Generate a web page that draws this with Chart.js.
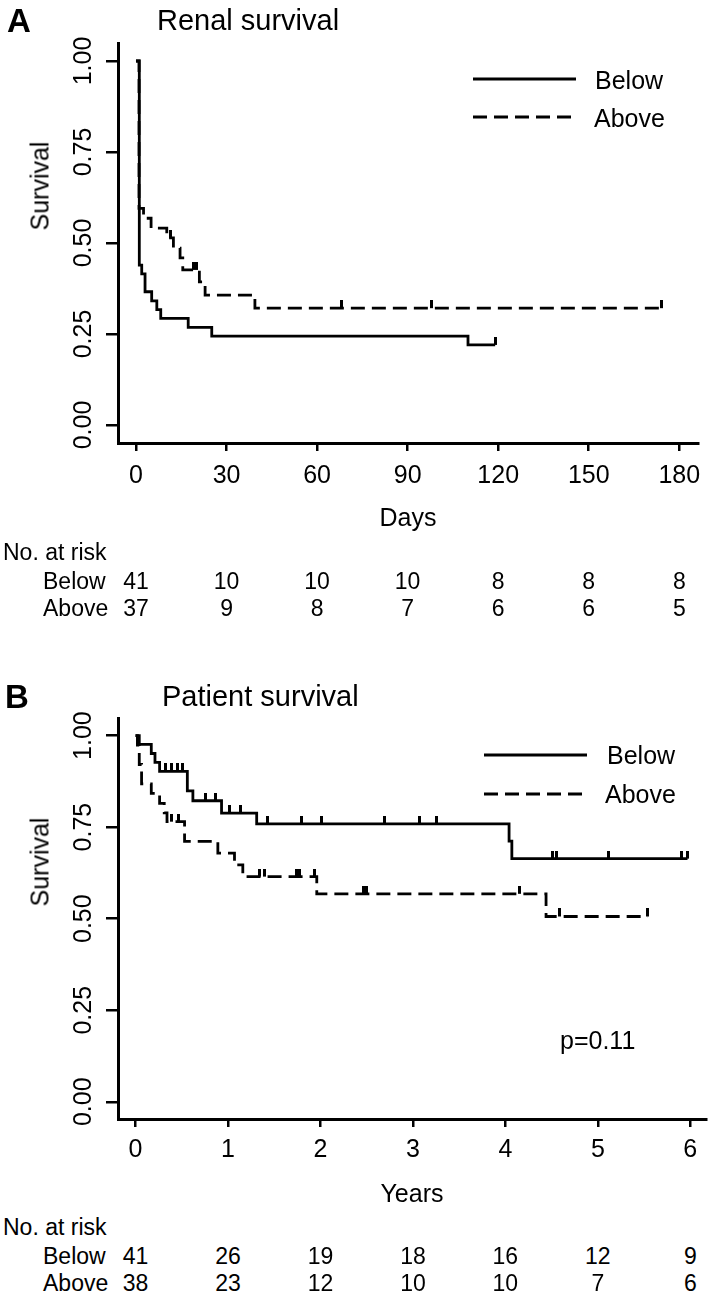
<!DOCTYPE html>
<html>
<head>
<meta charset="utf-8">
<script src="https://cdn.jsdelivr.net/npm/chart.js@4/dist/chart.umd.min.js"></script>
<style>
body { margin: 0; width: 711px; height: 1298px; background: #fff; position: relative; overflow: hidden; font-family: "Liberation Sans", Arial, sans-serif; color: #000; }
canvas { position: absolute; left: 0; }
.t { position: absolute; white-space: nowrap; line-height: 1; }
</style>
</head>
<body>
<canvas id="chart-a" width="711" height="540" style="top:0px"></canvas>
<canvas id="chart-b" width="711" height="540" style="top:660px"></canvas>
<script>
// Panel A - renal survival, days
var belowDaysA = [0, 1.1, 1.9, 3.0, 5.2, 6.9, 8.2, 17.3, 25.1, 110, 119];
var belowSurvA = [1, 0.439, 0.415, 0.366, 0.341, 0.317, 0.293, 0.268, 0.244, 0.22, 0.22];
var aboveDaysA = [0, 1.0, 2.5, 5.0, 10.2, 12.4, 14.6, 15.5, 21, 22.9, 39.4, 174];
var aboveSurvA = [1, 0.595, 0.568, 0.541, 0.514, 0.486, 0.459, 0.426, 0.393, 0.357, 0.321, 0.321];
var belowCensorA = [119];
var aboveCensorA = [11.5, 19.2, 20, 68, 98, 174];
var xTicksA = [0, 30, 60, 90, 120, 150, 180];
var riskBelowA = [41, 10, 10, 10, 8, 8, 8];
var riskAboveA = [37, 9, 8, 7, 6, 6, 5];

// Panel B - patient survival, years
var belowYrsB = [0, 0.04, 0.17, 0.21, 0.26, 0.56, 0.62, 0.93, 1.31, 4.04, 4.07, 5.97];
var belowSurvB = [1, 0.976, 0.951, 0.927, 0.902, 0.849, 0.822, 0.788, 0.759, 0.712, 0.664, 0.664];
var aboveYrsB = [0, 0.02, 0.04, 0.065, 0.17, 0.26, 0.31, 0.34, 0.53, 0.89, 1.07, 1.16, 1.96, 4.44, 5.54];
var aboveSurvB = [1, 0.974, 0.921, 0.868, 0.842, 0.815, 0.789, 0.765, 0.711, 0.679, 0.647, 0.615, 0.568, 0.506, 0.506];
var belowCensorB = [0.32, 0.39, 0.45, 0.51, 0.76, 0.86, 1.02, 1.14, 1.43, 1.79, 2.01, 2.69, 3.07, 3.25, 4.51, 4.55, 5.11, 5.90, 5.97];
var aboveCensorB = [0.39, 0.46, 1.34, 1.39, 1.74, 1.77, 1.94, 2.46, 2.50, 4.15, 4.58, 5.54];
var xTicksB = [0, 1, 2, 3, 4, 5, 6];
var riskBelowB = [41, 26, 19, 18, 16, 12, 9];
var riskAboveB = [38, 23, 12, 10, 10, 7, 6];

var yTicks = [0, 0.25, 0.5, 0.75, 1];
var groupNames = ['Below', 'Above'];

var DASH = [14, 7];
var LINE_W = 2.8;

function zip(xs, ys) {
	var out = [];
	for (var i = 0; i < xs.length; i++) {out.push({x: xs[i], y: ys[i]});}
	return out;
}

// survival level of a curve at time t (used to sit censor marks on the curve)
function survAt(times, surv, t) {
	var s = surv[0];
	for (var i = 0; i < times.length; i++) {if (times[i] <= t) {s = surv[i];}}
	return s;
}

function censorPoints(cens, times, surv) {
	return cens.map(function(t) {return {x: t, y: survAt(times, surv, t)};});
}

// small upward tick used as censor mark
var censorMark = (function() {
	var c = document.createElement('canvas');
	c.width = 3; c.height = 16;
	var g = c.getContext('2d');
	g.fillStyle = '#000';
	g.fillRect(0, 0, 3, 8);
	return c;
})();

var yLabelPlugin = {
	id: 'yLabels',
	afterDraw: function(chart) {
		var ctx = chart.ctx, scale = chart.scales.y;
		ctx.save();
		ctx.fillStyle = '#000';
		ctx.font = '25px "Liberation Sans", Arial, sans-serif';
		ctx.textAlign = 'center';
		ctx.textBaseline = 'alphabetic';
		yTicks.forEach(function(v) {
			ctx.save();
			ctx.translate(91, scale.getPixelForValue(v));
			ctx.rotate(-Math.PI / 2);
			ctx.fillText(v.toFixed(2), 0, 0);
			ctx.restore();
		});
		ctx.restore();
	}
};

var legendLinePlugin = {
	id: 'legendLines',
	afterDraw: function(chart) {
		var o = chart.options.plugins.legendLines, ctx = chart.ctx;
		ctx.save();
		ctx.strokeStyle = '#000';
		ctx.lineWidth = LINE_W;
		ctx.beginPath(); ctx.moveTo(o.x1, o.y1); ctx.lineTo(o.x2, o.y1); ctx.stroke();
		ctx.setLineDash(DASH);
		ctx.beginPath(); ctx.moveTo(o.x1, o.y2); ctx.lineTo(o.x2, o.y2); ctx.stroke();
		ctx.restore();
	}
};

function makeChart(id, o) {
	var ctx = document.getElementById(id).getContext('2d');
	return new Chart(ctx, {
		type: 'line',
		data: {
			datasets: [
				{label: groupNames[0], data: zip(o.belowT, o.belowS), borderColor: '#000', borderWidth: LINE_W, stepped: 'before', pointRadius: 0, fill: false},
				{label: groupNames[1], data: zip(o.aboveT, o.aboveS), borderColor: '#000', borderWidth: LINE_W, borderDash: DASH, stepped: 'before', pointRadius: 0, fill: false},
				{data: censorPoints(o.belowC, o.belowT, o.belowS), showLine: false, pointStyle: censorMark, pointRadius: 4},
				{data: censorPoints(o.aboveC, o.aboveT, o.aboveS), showLine: false, pointStyle: censorMark, pointRadius: 4}
			]
		},
		options: {
			responsive: false,
			animation: false,
			events: [],
			layout: {padding: {top: o.top, right: o.right, left: 0, bottom: 0}},
			plugins: {legend: {display: false}, tooltip: {enabled: false}, legendLines: o.legend},
			scales: {
				x: {
					type: 'linear', min: o.xMin, max: o.xMax,
					afterBuildTicks: function(s) {s.ticks = o.xTicks.map(function(v) {return {value: v};});},
					afterFit: function(s) {s.height = o.xAxisH;},
					grid: {drawOnChartArea: false, drawTicks: true, tickLength: 8, color: '#000', lineWidth: 2.5},
					border: {display: true, color: '#000', width: 3},
					ticks: {color: '#000', font: {size: 25}, padding: o.tickPad, maxRotation: 0, autoSkip: false}
				},
				y: {
					type: 'linear', min: o.yMin, max: o.yMax,
					afterBuildTicks: function(s) {s.ticks = yTicks.map(function(v) {return {value: v};});},
					afterFit: function(s) {s.width = 118;},
					grid: {drawOnChartArea: false, drawTicks: true, tickLength: 12, color: '#000', lineWidth: 2.5},
					border: {display: true, color: '#000', width: 3},
					ticks: {display: false}
				}
			}
		},
		plugins: [yLabelPlugin, legendLinePlugin]
	});
}

function addText(text, x, cy, size, opts) {
	opts = opts || {};
	var d = document.createElement('div');
	d.className = 't';
	d.textContent = text;
	d.style.fontSize = size + 'px';
	d.style.top = (cy - size * 0.49) + 'px';
	d.style.left = x + 'px';
	if (opts.bold) {d.style.fontWeight = 'bold';}
	if (opts.center) {d.style.transform = 'translateX(-50%)';}
	if (opts.rotate) {
		d.style.top = cy + 'px';
		d.style.transform = 'translate(-50%, -50%) rotate(-90deg)';
	}
	document.body.appendChild(d);
	return d;
}

function riskTable(chart, times, below, above, y0) {
	addText('No. at risk', 3, y0, 23);
	addText(groupNames[0], 43, y0 + 29, 23);
	addText(groupNames[1], 43, y0 + 56, 23);
	for (var i = 0; i < times.length; i++) {
		var px = chart.scales.x.getPixelForValue(times[i]);
		addText(String(below[i]), px, y0 + 29, 23, {center: true});
		addText(String(above[i]), px, y0 + 56, 23, {center: true});
	}
}

var chartA = makeChart('chart-a', {
	belowT: belowDaysA, belowS: belowSurvA, aboveT: aboveDaysA, aboveS: aboveSurvA,
	belowC: belowCensorA, aboveC: aboveCensorA, xTicks: xTicksA,
	xMin: -5.96, xMax: 186.2, yMin: -0.0495, yMax: 1.0495,
	top: 43, right: 13, xAxisH: 540 - 443, tickPad: 10,
	legend: {x1: 473, x2: 576, y1: 79, y2: 117}
});

var chartB = makeChart('chart-b', {
	belowT: belowYrsB, belowS: belowSurvB, aboveT: aboveYrsB, aboveS: aboveSurvB,
	belowC: belowCensorB, aboveC: aboveCensorB, xTicks: xTicksB,
	xMin: -0.19, xMax: 6.17, yMin: -0.047, yMax: 1.048,
	top: 58, right: 4, xAxisH: 540 - 459, tickPad: 8,
	legend: {x1: 484, x2: 587, y1: 95, y2: 134}
});

// panel A texts
addText('A', 7, 20, 33, {bold: true});
addText('Renal survival', 157, 20, 29);
addText('Survival', 40, 186, 25, {rotate: true});
addText('Days', 408, 517, 25, {center: true});
addText(groupNames[0], 595, 80, 25);
addText(groupNames[1], 594, 118, 25);
riskTable(chartA, xTicksA, riskBelowA, riskAboveA, 552);

// panel B texts
addText('B', 5, 696, 33, {bold: true});
addText('Patient survival', 162, 696, 29);
addText('Survival', 40, 862, 25, {rotate: true});
addText('Years', 412, 1193, 25, {center: true});
addText(groupNames[0], 607, 755, 25);
addText(groupNames[1], 605, 794, 25);
addText('p=0.11', 560, 1040, 25);
riskTable(chartB, xTicksB, riskBelowB, riskAboveB, 1227);
</script>
</body>
</html>
